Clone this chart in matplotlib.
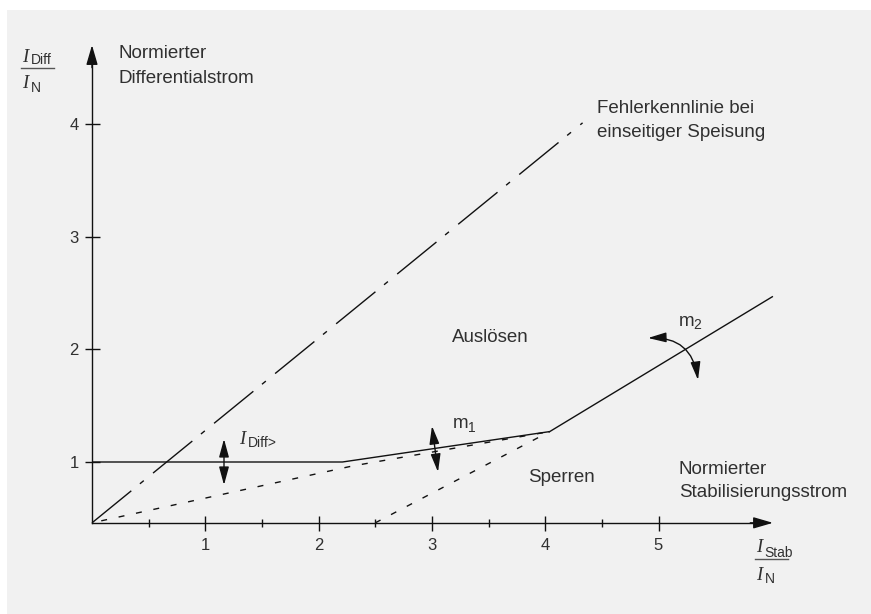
import matplotlib
matplotlib.use('Agg')
import matplotlib.pyplot as plt
from matplotlib.patches import FancyArrowPatch, Rectangle
from matplotlib.ticker import NullLocator

# ---------------- data ----------------
x_ticks = [1, 2, 3, 4, 5]
x_minor = [0.5, 1.5, 2.5, 3.5, 4.5]
y_ticks = [1, 2, 3, 4]
y_origin = 0.46
x_axis_end = 6.01
y_axis_end = 4.70

trip_x = [0.0, 2.21, 4.04, 6.01]       # Auslösekennlinie (solid)
trip_y = [1.0, 1.0, 1.27, 2.47]
fault_x = [0.0, 4.33]                  # Fehlerkennlinie (dash-dot)
fault_y = [0.46, 4.01]
lower1_x = [0.0, 2.30, 4.04]           # dashed helper line 1
lower1_y = [0.46, 0.965, 1.27]
lower2_x = [2.50, 4.04]                # dashed helper line 2
lower2_y = [0.46, 1.27]

# ---------------- style ----------------
plt.rcParams['font.family'] = ['Liberation Sans', 'DejaVu Sans']
TXT = '#303030'
LN = '#111111'

W, H = 871, 614
fig = plt.figure(figsize=(W / 100, H / 100), dpi=100)
fig.patch.set_facecolor('white')
fig.add_artist(Rectangle((7 / W, 0), 1 - 7 / W, (H - 10) / H, transform=fig.transFigure,
                         facecolor='#f1f1f1', edgecolor='none', zorder=0))

ax = fig.add_axes([0, 0, 1, 1])
ax.set_facecolor('none')
X0, SX = 92, 113.3
Y1, SY = 462, 112.67
ax.set_xlim((0 - X0) / SX, (W - X0) / SX)
ax.set_ylim(1 + (Y1 - H) / SY, 1 + Y1 / SY)


def P(px, py):
    """pixel position (layout only) -> data coordinates"""
    return ((px - X0) / SX, 1 + (Y1 - py) / SY)


# spines / axes
for s in ['top', 'right']:
    ax.spines[s].set_visible(False)
ax.spines['left'].set_position(('data', 0))
ax.spines['bottom'].set_position(('data', y_origin))
ax.spines['left'].set_bounds(y_origin, y_axis_end - 0.1)
ax.spines['bottom'].set_bounds(0, x_axis_end - 0.1)
for s in ['left', 'bottom']:
    ax.spines[s].set_linewidth(1.0)
    ax.spines[s].set_color(LN)

ax.set_xticks(x_ticks)
ax.set_xticklabels([str(v) for v in x_ticks])
ax.set_xticks(x_minor, minor=True)
ax.set_yticks(y_ticks)
ax.set_yticklabels([str(v) for v in y_ticks])
ax.yaxis.set_minor_locator(NullLocator())
ax.tick_params(which='major', direction='inout', length=10.8, width=1, color=LN,
               labelsize=12, labelcolor=TXT)
ax.tick_params(axis='x', which='major', pad=5.5)
ax.tick_params(axis='y', which='major', pad=4.3)
ax.tick_params(which='minor', direction='inout', length=5.8, width=1, color=LN)

# axis arrow heads
for a, b in [((x_axis_end - 0.2, y_origin), (x_axis_end, y_origin)),
             ((0, y_axis_end - 0.2), (0, y_axis_end))]:
    ax.add_patch(FancyArrowPatch(a, b, arrowstyle='-|>,head_length=12,head_width=3.5',
                                 mutation_scale=1, color=LN, lw=1.0, shrinkA=0, shrinkB=0))

# characteristic lines
ax.plot(trip_x, trip_y, color=LN, lw=1.0, solid_capstyle='butt')
ax.plot(fault_x, fault_y, color=LN, lw=1.0, linestyle=(0, (36.5, 8, 3.6, 8.6)))
ax.plot(lower1_x, lower1_y, color=LN, lw=1.0, linestyle=(6, (4.3, 8.5)))
ax.plot(lower2_x, lower2_y, color=LN, lw=1.0, linestyle=(0, (4.3, 8.5)))


def T(px, py, s, size=13.5, serif_it=False):
    kw = dict(color=TXT, fontsize=size, va='baseline', ha='left')
    if serif_it:
        kw.update(family=['Liberation Serif', 'DejaVu Serif'], style='italic')
    ax.text(*P(px, py), s, **kw)


def bar(x1, x2, py):
    a = P(x1, py)
    b = P(x2, py)
    ax.plot([a[0], b[0]], [a[1], b[1]], color='#555555', lw=1.0, clip_on=False)


# y-axis label fraction
T(22, 62, 'I', 13.5, True)
T(31, 63.5, 'Diff', 10)
bar(21, 54, 68)
T(22, 88, 'I', 13.5, True)
T(31, 92, 'N', 10)

# x-axis label fraction
T(756, 552, 'I', 13.5, True)
T(764, 557, 'Stab', 10)
bar(755, 788, 559)
T(756, 580, 'I', 13.5, True)
T(765, 583, 'N', 10)

# descriptive texts
T(119, 58, 'Normierter')
T(119, 83, 'Differentialstrom')
T(597, 113, 'Fehlerkennlinie bei')
T(597, 137, 'einseitiger Speisung')
T(679, 474, 'Normierter')
T(679, 497, 'Stabilisierungsstrom')
T(452, 342, 'Auslösen')
T(528, 482, 'Sperren')

# I_Diff> label and arrow
T(239, 444, 'I', 13.5, True)
T(248, 447, 'Diff>', 10)
ax.add_patch(FancyArrowPatch(P(224, 485), P(224, 439),
                             arrowstyle='<|-|>,head_length=11,head_width=3',
                             mutation_scale=1, color=LN, lw=1.0, shrinkA=0, shrinkB=0))

# m1
T(453, 428, 'm')
T(468, 432, '1', 10)
ax.add_patch(FancyArrowPatch(P(438, 472), P(432, 426),
                             arrowstyle='<|-|>,head_length=11,head_width=3',
                             mutation_scale=1, color=LN, lw=1.0, shrinkA=0, shrinkB=0))

# m2
T(679, 326, 'm')
T(693, 329, '2', 10)
ax.add_patch(FancyArrowPatch(P(648, 338), P(698, 380), connectionstyle='arc3,rad=-0.45',
                             arrowstyle='<|-|>,head_length=11,head_width=3',
                             mutation_scale=1, color=LN, lw=1.0, shrinkA=0, shrinkB=0))

fig.savefig('out.png', dpi=100, facecolor=fig.get_facecolor())
